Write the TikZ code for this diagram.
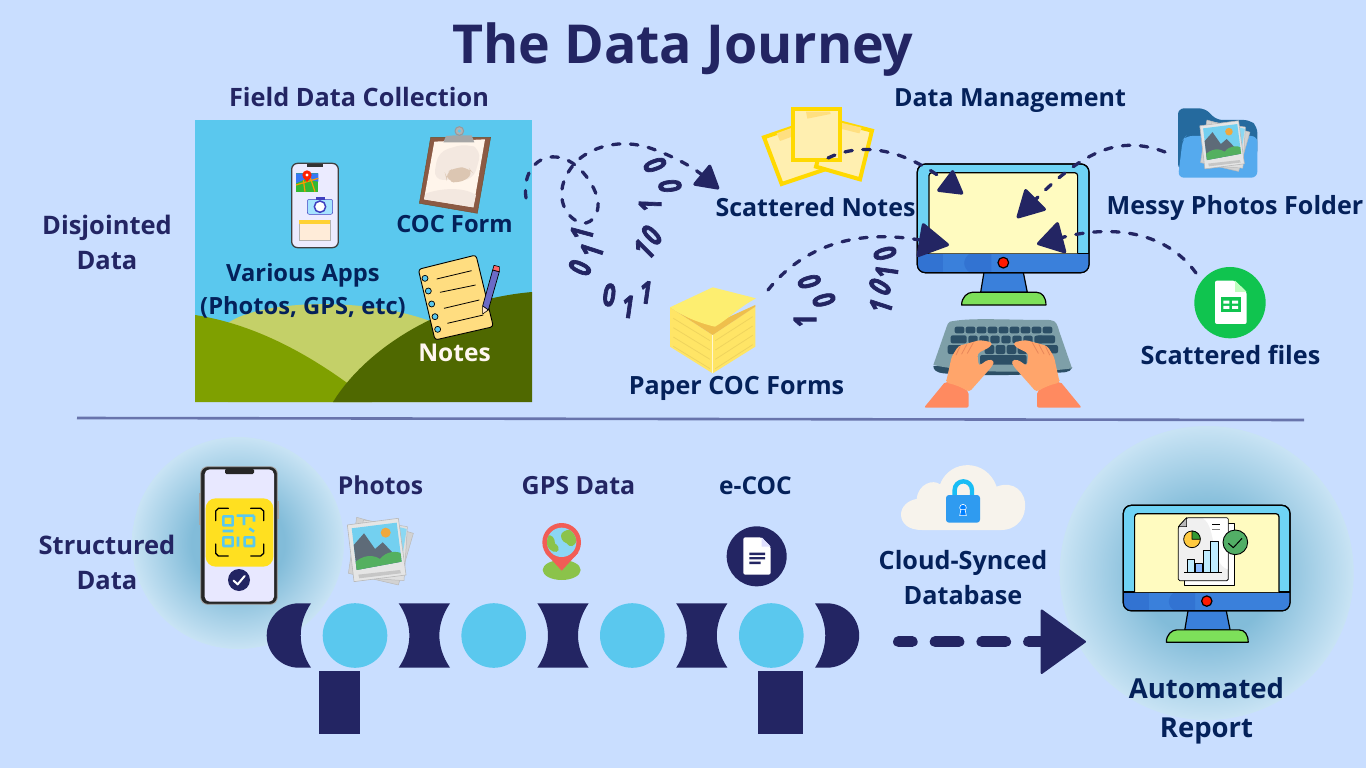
\documentclass[tikz,border=0pt]{standalone}
\usepackage{fontspec}
\usepackage{graphicx}
\setmainfont{Open Sans}
\newfontfamily\bitfont{Open Sans}[BoldFeatures={FakeBold=3}]
\usetikzlibrary{arrows.meta}

\definecolor{page}{HTML}{C9DEFF}
\definecolor{navy}{HTML}{232563}
\definecolor{ink}{HTML}{04215A}
\definecolor{sky}{HTML}{5AC8EE}
\definecolor{screenblue}{HTML}{6FD3F5}
\definecolor{barblue}{HTML}{3A80DB}
\definecolor{bardark}{HTML}{3273D2}
\definecolor{cream}{HTML}{FFFBC0}
\definecolor{leaf}{HTML}{7DE05A}
\definecolor{noteyellow}{HTML}{FFD900}
\definecolor{notefill}{HTML}{FFEFB0}
\definecolor{notetape}{HTML}{FFDF80}
\definecolor{padface}{HTML}{FFE566}
\definecolor{padtop}{HTML}{FDEE70}
\definecolor{padfold}{HTML}{EFBF4C}
\definecolor{padline}{HTML}{EFD45E}
\definecolor{keybody}{HTML}{7E9FA8}
\definecolor{keydark}{HTML}{2C4F66}
\definecolor{skin}{HTML}{FFA56B}
\definecolor{skinline}{HTML}{E8875A}
\definecolor{cuff}{HTML}{FF8A60}
\definecolor{mapgreen}{HTML}{8BC34A}
\definecolor{glowmid}{HTML}{82BCD9}
\definecolor{glowedge}{HTML}{C8E3F4}
\definecolor{hillpale}{HTML}{C4D068}
\definecolor{hillmid}{HTML}{7FA000}
\definecolor{hilldark}{HTML}{4F6800}
\definecolor{boardbrown}{HTML}{8B5A44}
\definecolor{padyellow}{HTML}{FFDD80}
\definecolor{folderback}{HTML}{256A9E}
\definecolor{folderfront}{HTML}{55AAEE}
\definecolor{sheetgreen}{HTML}{10C44F}
\definecolor{rulecolor}{HTML}{6874AC}
\definecolor{qryellow}{HTML}{FFE020}
\definecolor{pinred}{HTML}{F25D56}
\definecolor{pinsea}{HTML}{8CD6F5}
\definecolor{cloudwhite}{HTML}{F7F3EC}
\definecolor{shackle}{HTML}{19BDF5}
\definecolor{lockblue}{HTML}{2F9BF0}
\definecolor{okgreen}{HTML}{52AE66}
\definecolor{rock}{HTML}{5E6B78}
\definecolor{meadow}{HTML}{54B060}
\definecolor{sunspot}{HTML}{F0A83C}
\definecolor{stain}{HTML}{DCC6B2}
\definecolor{wash}{HTML}{F3E8E0}

\pgfdeclareradialshading{halo}{\pgfpointorigin}{%
  color(0bp)=(glowmid); color(11bp)=(glowmid); color(18.5bp)=(glowmid!45!glowedge); color(24.9bp)=(glowedge); color(50bp)=(glowedge)}

\tikzset{
  cell/.style 2 args={shift={(#1,#2)},x=.33333pt,y=-.33333pt},
  head/.style={font=\fontsize{#1}{35}\selectfont\bfseries,text=navy,inner sep=0pt,align=center},
  lab/.style={font=\fontsize{#1}{35}\selectfont\bfseries,text=ink,inner sep=0pt,align=center},
  bit/.style={font=\bitfont\fontsize{31}{31}\selectfont\bfseries,text=navy,inner sep=0pt},
  flow/.style={draw=navy,line width=3.3pt,line cap=round,dash pattern=on 7.5pt off 10.5pt},
  outline/.style={draw=black,line width=1.2pt,line join=round},
}

% desktop computer: origin at the top-left corner of the casing, #3 = size of one unit
\newcommand{\desktop}[3]{%
  \begin{scope}[shift={(#1,#2)},x=#3pt,y=-#3pt]
    \filldraw[fill=barblue,outline] (200,325) -- (318,325) -- (330,385) -- (190,385) -- cycle;
    \filldraw[fill=leaf,outline] (133,423) .. controls (133,400) and (150,385) .. (165,385) -- (358,385) .. controls (375,385) and (386,400) .. (386,423) -- cycle;
    \filldraw[fill=screenblue,outline,rounded corners=8pt] (0,0) rectangle (515,326);
    \begin{scope}
      \clip[rounded corners=8pt] (0,0) rectangle (515,326);
      \fill[barblue] (0,268) rectangle (515,326);
      \fill[bardark] (0,268) rectangle (78,326);
      \fill[bardark] (158,268) .. controls (135,285) and (135,310) .. (158,326) -- (222,326) -- (222,268) -- cycle;
    \end{scope}
    \draw[black,line width=1.2pt] (0,268) -- (515,268);
    \filldraw[fill=cream,outline,rounded corners=3pt] (35,268) -- (35,26) -- (481,26) -- (481,268);
    \filldraw[fill=red!80!orange,outline] (258,296) circle[radius=16];
    \draw[black,line width=1.2pt,rounded corners=8pt] (0,0) rectangle (515,326);
  \end{scope}}

% stack of photo prints; #1,#2 = top-left corner, #3 = size of one unit
\newcommand{\photostack}[3]{%
  \begin{scope}[shift={(#1,#2)},x=#3pt,y=-#3pt,line join=round]
    \filldraw[fill=gray!35,draw=gray!55,line width=.5pt] (30,0) -- (200,48) -- (155,203) -- (5,168) -- cycle;
    \filldraw[fill=gray!25,draw=gray!55,line width=.5pt] (50,8) -- (182,28) -- (172,190) -- (30,180) -- cycle;
    \fill[sky!70] (160,30) -- (180,35) -- (165,130) -- (155,130) -- cycle;
    \filldraw[fill=gray!20,draw=gray!55,line width=.6pt] (2,23) -- (155,3) -- (178,173) -- (22,193) -- cycle;
    \fill[gray!45] (35,172) -- (160,158) -- (163,168) -- (38,183) -- cycle;
    \begin{scope}
      \clip (15,33) -- (150,16) -- (165,133) -- (30,158) -- cycle;
      \fill[sky!85!white] (0,0) rectangle (180,170);
      \fill[rock] (15,90) -- (52,48) -- (85,95) -- (108,75) -- (140,108) -- (170,140) -- (20,170) -- cycle;
      \fill[meadow] (15,145) .. controls (50,105) and (85,115) .. (100,125) .. controls (120,100) and (150,100) .. (170,110) -- (170,170) -- (15,170) -- cycle;
      \fill[sunspot] (117,46) circle[radius=15];
    \end{scope}
  \end{scope}}

% one hand on the keys, with its sleeve
\newcommand{\handshape}{%
  \fill[cuff,rounded corners=2pt] (12,293) -- (76,215) .. controls (105,222) and (130,232) .. (146,246) -- (146,293) -- cycle;
  \fill[skin,rounded corners=3pt] (78,218) -- (95,140) -- (115,108) -- (180,90) -- (217,97) -- (212,110) -- (172,130) -- (176,168) -- (205,148) -- (223,152) -- (218,167) -- (148,246) .. controls (125,232) and (105,224) .. (78,218) -- cycle;
  \draw[skinline,line width=.8pt,line cap=round] (120,110) -- (108,135) (140,104) -- (125,132) (160,98) -- (142,130);}

% bobbin between two rollers of the belt
\newcommand{\bobbin}[1]{%
  \fill[navy,shift={(#1,635.5)}] (-25.65,-32.2) .. controls (-11.45,-11) and (-11.45,11) .. (-25.65,32.2) -- (25.65,32.2) .. controls (11.45,11) and (11.45,-11) .. (25.65,-32.2) -- cycle;}

\begin{document}
\begin{tikzpicture}[x=1pt,y=-1pt]
\useasboundingbox (0,0) rectangle (1366,768);
\fill[page] (0,0) rectangle (1366,768);

% ---------- heading and side captions
\node[head=53.7] (title) at (683,49.5) {The Data Journey};
\node[head=25.5] (disjointed) at (107,242) {Disjointed\\Data};
\node[head=25.3] (fieldhead) at (359,97) {Field Data Collection};
\node[lab=25] (mgmthead) at (1010,101) {Data Management};

% ---------- field scene
\fill[sky] (195,120) rectangle (532,402);
\begin{scope}
  \clip (195,120) rectangle (532,402);
  \fill[hillpale] (228,323) .. controls (260,300) and (370,295) .. (440,325) -- (440,402) -- (228,402) -- cycle;
  \fill[hillmid] (195,315) .. controls (260,325) and (320,360) .. (372,402) -- (195,402) -- cycle;
  \fill[hilldark] (333,402) .. controls (365,350) and (440,300) .. (532,292) -- (532,402) -- cycle;
\end{scope}

% phone with apps
\begin{scope}[cell={190}{80}]
  \filldraw[fill=blue!8!white,draw=black!75,line width=1.3pt,rounded corners=6pt] (305,250) rectangle (445,503);
  \fill[black!80] (350,252) rectangle (400,262);
  \fill[green!65!black!80!white] (318,280) rectangle (385,335);
  \fill[sky!60!blue] (318,280) -- (385,280) -- (385,305) -- (345,298) -- (318,310) -- cycle;
  \draw[orange!80!yellow,line width=1.2pt] (318,315) -- (385,295) (345,335) -- (340,300) (375,335) -- (360,290);
  \fill[red!75!orange] (351,285) circle[radius=14];
  \fill[red!75!orange] (339,291) -- (363,291) -- (351,306) -- cycle;
  \fill[white] (351,285) circle[radius=5];
  \filldraw[fill=blue!30!cyan!35!white,draw=blue!50!gray,line width=.5pt,rounded corners=2pt] (352,358) rectangle (428,403);
  \fill[blue!50!gray] (378,352) rectangle (405,360);
  \filldraw[fill=white,draw=blue!50!gray,line width=1.5pt] (390,380) circle[radius=17];
  \filldraw[fill=orange!15!white,draw=gray!60,line width=.4pt] (327,420) rectangle (421,480);
  \fill[orange!45!yellow!80!white] (327,420) rectangle (421,433);
\end{scope}
\node[lab=23.7,font=\fontsize{23.7}{33}\selectfont\bfseries] (appsname) at (303,291) {Various Apps\\(Photos, GPS, etc)};

% clipboard
\begin{scope}[cell={190}{80},line join=round]
  \filldraw[fill=boardbrown,draw=brown!60!black,line width=.4pt] (722,172) -- (902,172) -- (862,400) -- (688,370) -- cycle;
  \fill[orange!8!white] (733,185) -- (885,178) -- (850,382) -- (702,358) -- cycle;
  \fill[wash,rounded corners=10pt] (745,215) -- (830,190) -- (875,210) -- (850,300) -- (730,300) -- cycle;
  \fill[stain,rounded corners=8pt] (765,280) -- (795,262) -- (835,262) -- (852,282) -- (805,312) -- (770,300) -- cycle;
  \fill[wash] (708,340) .. controls (770,320) and (830,325) .. (858,345) -- (850,382) -- (702,358) -- cycle;
  \fill[gray!70] (760,187) -- (768,168) -- (795,166) -- (820,166) -- (845,166) -- (853,187) -- cycle;
  \filldraw[fill=gray!60,draw=gray!80,line width=1pt] (808,153) circle[radius=13];
  \fill[sky] (808,153) circle[radius=5];
\end{scope}
\node[lab=23.7] (cocname) at (454.5,224) {COC Form};

% spiral notepad and pencil
\begin{scope}[cell={190}{80},line join=round]
  \filldraw[fill=padyellow,draw=black,line width=.9pt,rounded corners=3pt] (685,568) -- (858,525) -- (910,740) -- (735,780) -- cycle;
  \foreach \px/\py in {705/595,715/633,725/672,735/710,743/748}
    \filldraw[fill=sky,draw=black,line width=.7pt] (\px,\py) circle[radius=9];
  \draw[black,line width=.8pt] (740,597) -- (845,572) (750,637) -- (857,615) (762,685) -- (868,660) (772,730) -- (880,705);
  \filldraw[fill=blue!45!gray!80!white,draw=black,line width=.7pt] (878,678) -- (908,570) -- (928,575) -- (895,690) -- cycle;
  \filldraw[fill=red!60!white,draw=black,line width=.6pt] (908,570) -- (912,556) -- (928,560) -- (928,575) -- cycle;
  \filldraw[fill=orange!20!white,draw=black,line width=.6pt] (878,678) -- (895,690) -- (878,702) -- cycle;
\end{scope}
\node[font=\fontsize{24.5}{35}\selectfont\bfseries,text=orange!6!white,inner sep=0pt] (notesname) at (454.5,353) {Notes};

% ---------- scattered paper
\begin{scope}[cell={520}{90},line join=miter]
  \filldraw[fill=notefill,draw=noteyellow,line width=4pt] (732,142) -- (785,282) -- (925,235) -- (875,93) -- cycle;
  \fill[notetape] (770,130) -- (825,110) -- (835,133) -- (780,153) -- cycle;
  \filldraw[fill=notefill,draw=noteyellow,line width=4pt] (888,230) -- (1020,268) -- (1056,122) -- (925,88) -- cycle;
  \fill[notetape] (950,95) -- (1025,113) -- (1018,130) -- (945,112) -- cycle;
  \filldraw[fill=notefill,draw=noteyellow,line width=4pt] (820,58) rectangle (960,210);
  \fill[notetape] (858,65) -- (930,65) -- (932,72) -- (862,86) -- cycle;
\end{scope}
\node[lab=25] (scatterednotes) at (815.5,207) {Scattered Notes};

% pad of paper forms
\begin{scope}[cell={520}{90},line join=round]
  \fill[padface] (450,652) -- (578,735) -- (578,850) -- (450,770) -- cycle;
  \fill[padface] (578,735) -- (706,650) -- (706,770) -- (578,850) -- cycle;
  \fill[padfold] (450,652) -- (585,700) -- (706,645) -- (706,650) -- (578,735) -- cycle;
  \fill[padtop] (450,652) -- (578,592) -- (708,625) .. controls (660,650) and (620,690) .. (585,710) .. controls (540,700) and (490,680) .. (450,652) -- cycle;
  \foreach \dy in {0,28,56,84}{
    \draw[padline,line width=.8pt] (460,\dy+685) -- (570,\dy+752);
    \draw[padline,line width=.8pt] (586,\dy+752) -- (698,\dy+680);
  }
  \draw[white!70!padface,line width=.8pt] (578,735) -- (578,850);
\end{scope}
\node[lab=25.1] (padname) at (736.5,388) {Paper COC Forms};

% ---------- binary digits along the paths
\begin{scope}[cell={520}{90}]
  \foreach \px/\py/\rot/\digit [count=\n] in {
      180/533/65/0, 215/482/72/1, 185/430/75/1,
      372/478/45/1, 395/435/45/0, 390/345/88/1, 450/288/95/0, 405/225/110/0,
      268/615/-8/0, 325/650/-8/1, 378/607/-8/1,
      855/692/90/1, 912/630/105/0, 868/575/105/0,
      1082/648/72/1, 1080/590/60/0, 1100/545/82/1, 1095/490/105/0}
    \node[bit,rotate=\rot] (bit\n) at (\px,\py) {\scalebox{.72}[1]{\digit}};
\end{scope}

% ---------- central computer
\desktop{917.3}{164}{.33333}
\coordinate (screenA) at (963,194);
\coordinate (screenB) at (1017,218);
\coordinate (screenC) at (949,245);
\coordinate (screenD) at (1037,244);

% keyboard with hands
\begin{scope}[cell={920}{310},line join=round]
  \fill[keydark] (40,168) -- (457,172) .. controls (450,190) and (430,187) .. (400,188) .. controls (300,198) and (150,197) .. (70,190) .. controls (50,188) and (40,180) .. (40,168) -- cycle;
  \fill[keybody] (90,35) .. controls (150,22) and (250,30) .. (390,30) .. controls (410,32) and (412,45) .. (418,65) -- (456,175) .. controls (350,190) and (150,190) .. (40,165) -- (80,50) .. controls (82,42) and (85,38) .. (90,35) -- cycle;
  \foreach \k in {0,...,8}
    \fill[keydark,rounded corners=2pt] (104+\k*33,50) rectangle ++(29,20);
  \foreach \k in {1,...,7}
    \fill[keydark,rounded corners=2pt] (112+\k*33,77) rectangle ++(28,23);
  \fill[keydark,rounded corners=2pt] (92,76) rectangle (140,100);
  \fill[keydark,rounded corners=2pt] (350,76) rectangle (405,100);
  \foreach \k in {2,...,5}
    \fill[keydark,rounded corners=2pt] (128+\k*33,105) rectangle ++(29,27);
  \fill[keydark,rounded corners=2pt] (83,105) rectangle (140,132);
  \fill[keydark,rounded corners=2pt] (350,105) rectangle (414,130);
  \fill[keydark,rounded corners=2pt] (180,135) rectangle (320,164);
  \handshape
  \begin{scope}[xshift=497*.33333pt,x=-.33333pt]
    \handshape
  \end{scope}
\end{scope}

% ---------- photo folder and spreadsheet badge
\begin{scope}[cell={900}{90}]
  \fill[folderback,rounded corners=6pt] (834,240) -- (834,55) -- (915,55) -- (950,90) -- (1050,90) -- (1072,110) -- (1072,200) -- cycle;
  \fill[folderfront,rounded corners=6pt] (834,263) -- (848,150) -- (858,138) -- (1072,138) -- (1072,263) -- cycle;
\end{scope}
\photostack{1199.3}{120}{.2533}
\node[lab=25.1] (folderlabel) at (1235,208) {Messy Photos Folder};

\begin{scope}[cell={900}{90}]
  \fill[sheetgreen] (990,638) circle[radius=107];
  \fill[white,rounded corners=2pt] (945,572) -- (1005,572) -- (1040,606) -- (1040,702) -- (945,702) -- cycle;
  \fill[green!25!white] (1005,572) -- (1040,606) -- (1005,606) -- cycle;
  \fill[sheetgreen] (962,622) rectangle (1022,665);
  \fill[white] (970,632) rectangle (988,641) (996,632) rectangle (1014,641) (970,648) rectangle (988,657) (996,648) rectangle (1014,657);
\end{scope}
\node[lab=25.2] (sheetsname) at (1230.5,354.5) {Scattered files};

% ---------- dashed routes into the computer
\coordinate (fieldout) at (526,198);
\coordinate (notesin) at (719,189);
\coordinate (notesout) at (828,158);
\coordinate (folderout) at (1165,152);
\coordinate (padout) at (768,290);
\coordinate (sheetsout) at (1196,273);

\draw[flow,-{Triangle[length=25pt,width=28pt,round]}] (fieldout)
  .. controls (522,172) and (538,155) .. (556,157)
  .. controls (578,158) and (600,190) .. (598,207)
  .. controls (597,220) and (585,228) .. (575,220)
  .. controls (562,212) and (553,188) .. (575,163)
  .. controls (590,147) and (620,138) .. (650,148)
  .. controls (670,155) and (690,165) .. (notesin);
\draw[flow,-{Triangle[length=25pt,width=28pt,round]}] (notesout) .. controls (855,145) and (895,143) .. (screenA);
\draw[flow,-{Triangle[length=29pt,width=31pt,round]}] (folderout) .. controls (1120,135) and (1085,150) .. (screenB);
\draw[flow,-{Triangle[length=32pt,width=36pt,round]}] (padout) .. controls (800,250) and (850,228) .. (screenC);
\draw[flow,-{Triangle[length=28pt,width=34pt,round]}] (sheetsout) .. controls (1165,230) and (1110,225) .. (screenD);

% ---------- divider
\coordinate (ruleleft) at (77,418);
\coordinate (ruleright) at (1304,420);
\draw[rulecolor,line width=2.6pt] (ruleleft) -- (ruleright);

% ---------- glows
\shade[shading=halo] (238,543) circle[radius=106];
\shade[shading=halo] (1206.7,573) circle[radius=147];
\node[head=25.5] (structured) at (107,562) {Structured\\Data};

% ---------- scanning phone
\begin{scope}[cell={130}{430},line join=round]
  \fill[gray!70] (207,190) rectangle (214,285);
  \fill[gray!70] (440,212) rectangle (447,268);
  \filldraw[fill=black!85,draw=gray!70,line width=.8pt,rounded corners=7pt] (212,110) rectangle (442,523);
  \fill[blue!9!white,rounded corners=5pt] (224,118) rectangle (432,515);
  \fill[black!85,rounded corners=1.5pt] (285,116) rectangle (372,132);
  \fill[qryellow,rounded corners=10pt] (227,205) rectangle (430,410);
  \draw[black,line width=1.3pt,line cap=round]
    (295,235) -- (265,235) -- (257,243) -- (257,272)
    (362,235) -- (392,235) -- (401,243) -- (401,272)
    (295,378) -- (265,378) -- (257,370) -- (257,342)
    (362,378) -- (392,378) -- (401,370) -- (401,342);
  \draw[sky,line width=2.6pt]
    (280,259) rectangle (308,286) (280,322) rectangle (308,348) (344,322) rectangle (372,348)
    (324,320) -- (324,350) (278,303) -- (310,303) (320,257) -- (372,257) (342,257) -- (342,285) (372,257) -- (372,275) (358,295) -- (372,305);
  \fill[navy] (327,450) circle[radius=33];
  \draw[white,line width=2pt,line cap=round] (311,452) -- (323,463) -- (344,438);
\end{scope}

\photostack{346.7}{517.3}{.33333}
\node[head=24.7] (photosname) at (380.5,485) {Photos};
\node[head=25] (gpsname) at (578.5,485.5) {GPS Data};
\node[lab=24.5] (ecocname) at (755.5,485.5) {e-COC};

% ---------- map pin
\begin{scope}[cell={520}{450}]
  \fill[mapgreen] (125,360) ellipse[x radius=57,y radius=30];
  \fill[pinred] (75,308) -- (125,362) -- (175,308) -- cycle;
  \fill[pinred] (125,277) circle[radius=58];
  \fill[pinsea] (125,277) circle[radius=44];
  \begin{scope}
    \clip (125,277) circle[radius=44];
    \fill[mapgreen] (80,258) .. controls (95,250) and (105,265) .. (105,280) .. controls (125,295) and (115,310) .. (100,305) .. controls (85,300) and (70,275) .. (80,258) -- cycle;
    \fill[mapgreen] (125,250) .. controls (145,230) and (170,240) .. (170,270) .. controls (165,290) and (150,295) .. (140,280) .. controls (125,275) and (120,260) .. (125,250) -- cycle;
  \end{scope}
\end{scope}

% ---------- document badge
\begin{scope}[cell={520}{450}]
  \fill[navy] (710,319) circle[radius=90];
  \fill[white,rounded corners=2pt] (670,262) -- (725,262) -- (752,290) -- (752,374) -- (670,374) -- cycle;
  \fill[blue!12!white] (725,262) -- (752,290) -- (725,290) -- cycle;
  \fill[navy] (688,308) rectangle (735,315) (688,321) rectangle (735,328) (688,335) rectangle (722,342);
\end{scope}

% ---------- conveyor belt
\foreach \cx [count=\n] in {355,493.7,632.3,771.3}
  \node[circle,fill=sky,minimum size=64.6pt,inner sep=0pt] (roller\n) at (\cx,635.5) {};
\bobbin{424.35}
\bobbin{563}
\bobbin{701.8}
\fill[navy] (311,603.3) .. controls (297.3,624) and (297.3,647) .. (311,667.7) -- (298.9,667.7) arc[start angle=90,end angle=270,radius=32.2] -- cycle;
\fill[navy] (815,603.3) .. controls (828.7,624) and (828.7,647) .. (815,667.7) -- (827,667.7) arc[start angle=90,end angle=-90,radius=32.2] -- cycle;
\fill[navy] (319.3,671.3) rectangle (360,734);
\fill[navy] (758.3,671.3) rectangle (802.7,734);

% ---------- secure cloud
\begin{scope}[cell={890}{455}]
  \fill[cloudwhite]
    (95,225) .. controls (55,225) and (33,205) .. (33,178) .. controls (33,155) and (55,135) .. (80,132)
    .. controls (85,85) and (130,72) .. (150,88)
    .. controls (180,10) and (290,10) .. (320,95)
    .. controls (370,75) and (410,110) .. (405,160)
    .. controls (402,200) and (370,225) .. (335,225) -- cycle;
  \draw[shackle,line width=4.4pt] (194,125) -- (194,105) arc[start angle=180,end angle=360,radius=26] -- (246,125);
  \fill[lockblue,rounded corners=3pt] (168,120) rectangle (270,203);
  \filldraw[fill=blue!50!cyan,draw=white,line width=.6pt] (219,158) circle[radius=10];
  \filldraw[fill=blue!50!cyan,draw=white,line width=.6pt] (213,163) -- (209,182) -- (229,182) -- (225,163) -- cycle;
\end{scope}
\node[lab=25.2] (cloudname) at (963,578) {Cloud-Synced\\Database};

% ---------- dashed arrow into the report
\coordinate (beltout) at (898.5,641.7);
\coordinate (reportin) at (1086,641.7);
\draw[navy,line width=11pt,line cap=round,dash pattern=on 23.7pt off 23pt,dash phase=10pt,
  -{Triangle[length=46pt,width=66pt,line width=2pt,round]}] (beltout) -- (reportin);

% ---------- reporting computer
\desktop{1123.3}{505.3}{.3236}
\begin{scope}[cell={1060}{430},line join=round]
  \filldraw[fill=white,draw=black,line width=.8pt] (373,280) rectangle (522,466);
  \filldraw[fill=gray!12,draw=black,line width=.8pt,rounded corners=1.5pt] (380,263) -- (505,263) -- (505,452) -- (355,452) -- (355,290) -- cycle;
  \fill[white] (430,266) .. controls (470,290) and (450,400) .. (503,418) -- (503,266) -- cycle;
  \filldraw[fill=gray!55,draw=black,line width=.6pt] (380,263) -- (355,290) -- (380,290) -- cycle;
  \filldraw[fill=orange!55!yellow!75!white,draw=black,line width=.8pt] (396,328) circle[radius=25];
  \filldraw[fill=green!50!black!80!white,draw=black,line width=.7pt] (396,328) -- (396,303) arc[start angle=-90,end angle=0,radius=25] -- cycle;
  \draw[black,line width=.8pt] (456,284) -- (480,284);
  \draw[gray,line width=.8pt] (456,298) -- (480,298);
  \filldraw[fill=blue!30!cyan!25!white,draw=black,line width=.8pt] (382,387) rectangle (404,428);
  \filldraw[fill=blue!60!cyan!45!white,draw=black,line width=.8pt] (406,400) rectangle (427,428);
  \filldraw[fill=blue!30!cyan!25!white,draw=black,line width=.8pt] (429,362) rectangle (452,428);
  \filldraw[fill=blue!30!cyan!25!white,draw=black,line width=.8pt] (452,335) rectangle (475,428);
  \draw[black,line width=.9pt] (373,428) -- (487,428);
  \filldraw[fill=okgreen,draw=black,line width=.9pt] (526,337) circle[radius=37];
  \draw[black,line width=1pt] (505,340) -- (520,353) -- (546,325);
\end{scope}
\node[lab=27.5,font=\fontsize{27.5}{39}\selectfont\bfseries] (reportname) at (1206.5,711) {Automated\\Report};

\end{tikzpicture}
\end{document}
